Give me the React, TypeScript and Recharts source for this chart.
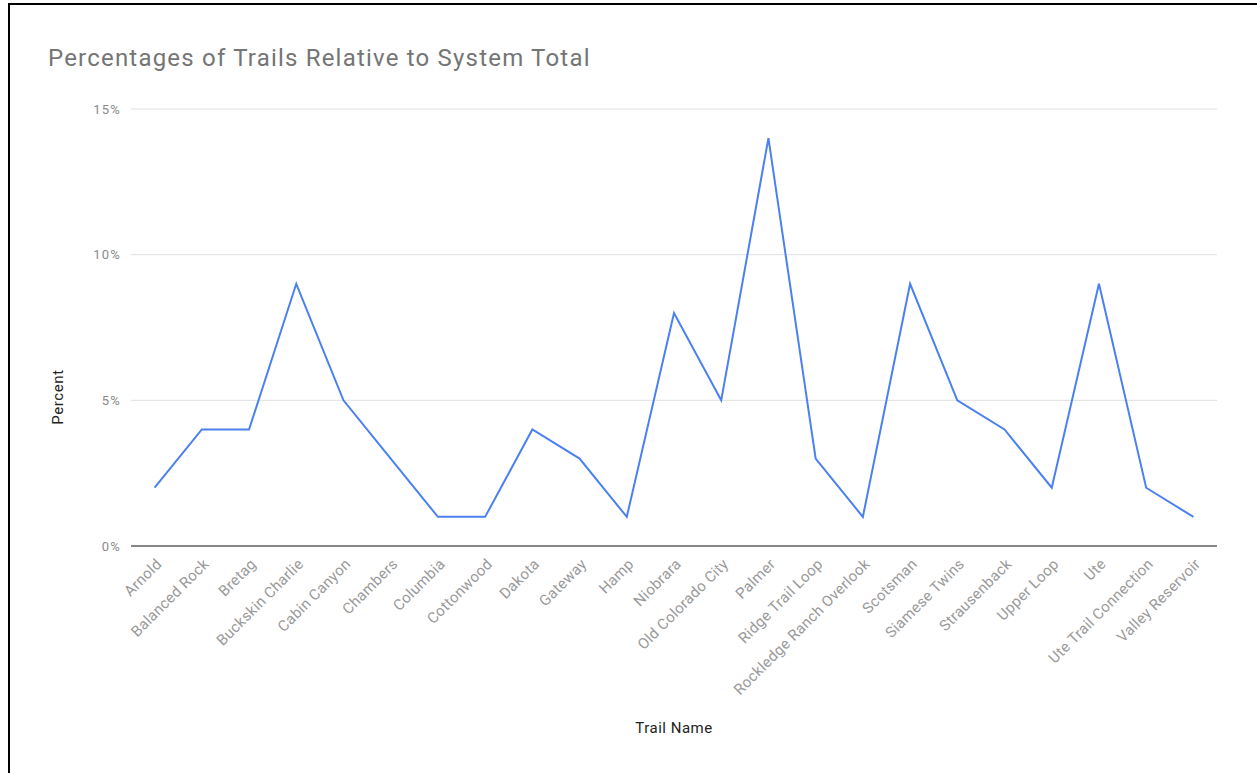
import React from 'react';
import {
  LineChart,
  Line,
  XAxis,
  YAxis,
  CartesianGrid,
} from 'recharts';

const TRAILS = [
  'Arnold', 'Balanced Rock', 'Bretag', 'Buckskin Charlie', 'Cabin Canyon',
  'Chambers', 'Columbia', 'Cottonwood', 'Dakota', 'Gateway', 'Hamp',
  'Niobrara', 'Old Colorado City', 'Palmer', 'Ridge Trail Loop',
  'Rockledge Ranch Overlook', 'Scotsman', 'Siamese Twins', 'Strausenback',
  'Upper Loop', 'Ute', 'Ute Trail Connection', 'Valley Reservoir',
];

const PERCENTS = [2, 4, 4, 9, 5, 3, 1, 1, 4, 3, 1, 8, 5, 14, 3, 1, 9, 5, 4, 2, 9, 2, 1];

const Y_TICKS = [0, 5, 10, 15];

const data = TRAILS.map((name, i) => ({ name, percent: PERCENTS[i] }));

const FONT = 'Roboto, Arial, sans-serif';

// half of one category band, so points sit in the middle of each band
const HALF_BAND = 1086 / TRAILS.length / 2;

const TrailTick = ({ x, y, payload }: any) => (
  <g transform={`translate(${x + 8},${y + 19})`}>
    <text
      x={0}
      y={0}
      textAnchor="end"
      transform="rotate(-45)"
      fill="#9a9a9a"
      fontSize={15}
      letterSpacing={0.3}
      fontFamily={FONT}
    >
      {payload.value}
    </text>
  </g>
);

const PercentLabel = () => {
  const cx = 58;
  const cy = 397;
  return (
    <text
      x={cx}
      y={cy}
      textAnchor="middle"
      dominantBaseline="central"
      transform={`rotate(-90, ${cx}, ${cy})`}
      fill="#222"
      fontSize={15}
      letterSpacing={0.6}
      fontFamily={FONT}
    >
      Percent
    </text>
  );
};

const TrailNameLabel = ({ viewBox }: any) => (
  <text
    x={viewBox.x + viewBox.width / 2}
    y={733}
    textAnchor="middle"
    fill="#222"
    fontSize={15}
    letterSpacing={0.5}
    fontFamily={FONT}
  >
    Trail Name
  </text>
);

export default function App() {
  return (
    <div
      style={{
        position: 'fixed',
        left: 0,
        top: 0,
        width: 1257,
        height: 773,
        background: '#fff',
        overflow: 'hidden',
      }}
    >
      <div
        style={{
          position: 'absolute',
          left: 8,
          top: 3,
          width: 1300,
          height: 800,
          borderTop: '2px solid #000',
          borderLeft: '2px solid #000',
        }}
      />
      <div
        style={{
          position: 'absolute',
          left: 48,
          top: 44,
          fontFamily: FONT,
          fontSize: 24,
          letterSpacing: 1.2,
          color: '#757575',
          whiteSpace: 'nowrap',
        }}
      >
        Percentages of Trails Relative to System Total
      </div>
      <div style={{ position: 'absolute', left: 0, top: 0 }}>
        <LineChart
          width={1257}
          height={773}
          data={data}
          margin={{ top: 109, right: 40, bottom: 0, left: 51 }}
        >
          <CartesianGrid horizontal vertical={false} stroke="#e0e0e0" />
          <XAxis
            dataKey="name"
            interval={0}
            height={227}
            padding={{ left: HALF_BAND, right: HALF_BAND }}
            tickLine={false}
            tickSize={0}
            tickMargin={0}
            axisLine={{ stroke: '#666', strokeWidth: 1.5 }}
            tick={<TrailTick />}
            label={<TrailNameLabel />}
          />
          <YAxis
            width={80}
            domain={[0, 15]}
            ticks={Y_TICKS}
            tickFormatter={(v) => `${v}%`}
            axisLine={false}
            tickLine={false}
            tickMargin={4}
            tick={{ fill: '#8a8a8a', fontSize: 13, letterSpacing: 1.2, fontFamily: FONT }}
            label={<PercentLabel />}
          />
          <Line
            type="linear"
            dataKey="percent"
            stroke="#4a80f0"
            strokeWidth={2}
            dot={false}
            isAnimationActive={false}
          />
        </LineChart>
      </div>
    </div>
  );
}
